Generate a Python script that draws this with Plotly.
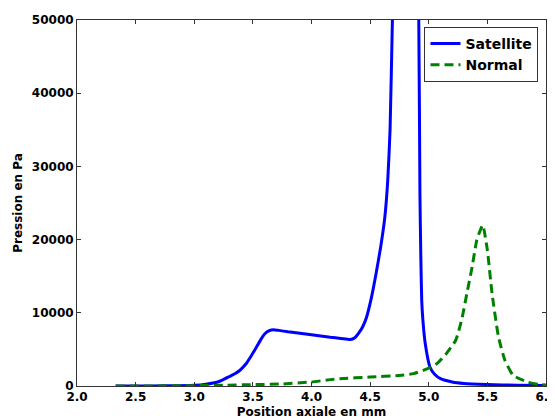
import plotly.graph_objects as go

# Satellite series (Pa vs mm)
sat_x = [2.33, 2.5, 2.75, 3.0, 3.1, 3.2, 3.25, 3.3, 3.35, 3.39, 3.44, 3.48, 3.53, 3.57, 3.6,
         3.64, 3.675, 3.72, 3.8, 4.0, 4.16, 4.25, 4.33, 4.37, 4.41, 4.44, 4.47, 4.51, 4.55,
         4.59, 4.625, 4.65, 4.67, 4.69, 4.72, 4.8, 4.88, 4.915, 4.925, 4.932, 4.94, 4.95,
         4.97, 5.01, 5.05, 5.10, 5.2, 5.3, 5.5, 5.75, 6.0]
sat_y = [0, 0, 20, 100, 250, 550, 900, 1300, 1700, 2150, 3000, 3960, 5300, 6400, 7100,
         7550, 7700, 7600, 7400, 7000, 6650, 6500, 6340, 6600, 7380, 8200, 9430, 12000, 15300,
         19000, 23000, 28000, 35000, 50000, 70000, 100000, 80000, 50000, 26000, 18000, 11700, 9000,
         5800, 2600, 1600, 1000, 550, 350, 200, 100, 60]

# Normal series
nor_x = [2.33, 2.75, 3.0, 3.25, 3.5, 3.75, 4.0, 4.16, 4.24, 4.5, 4.75, 4.87, 4.98, 5.07,
         5.15, 5.23, 5.28, 5.325, 5.37, 5.41, 5.46, 5.50, 5.54, 5.595, 5.65, 5.72, 5.84,
         5.94, 6.0]
nor_y = [0, 20, 50, 100, 190, 280, 550, 870, 1000, 1230, 1450, 1690, 2300, 3060,
         4430, 6250, 8980, 12630, 16270, 19920, 21970, 18550, 12630, 6700, 3510, 1460, 550,
         200, 120]

x_ticks = [2.0, 2.5, 3.0, 3.5, 4.0, 4.5, 5.0, 5.5, 6.0]
y_ticks = [0, 10000, 20000, 30000, 40000, 50000]

font = "DejaVu Sans"

fig = go.Figure()
fig.add_trace(go.Scatter(x=sat_x, y=sat_y, mode="lines", name="Satellite",
                         line=dict(color="#0000ff", width=3, shape="spline", smoothing=0.5)))
fig.add_trace(go.Scatter(x=nor_x, y=nor_y, mode="lines", name="Normal",
                         line=dict(color="#008000", width=3, dash="9px,5px",
                                   shape="spline", smoothing=0.5)))

axis_common = dict(showgrid=False, zeroline=False, showline=True, linecolor="#333333",
                   linewidth=1, mirror="allticks", ticks="inside", ticklen=4,
                   tickcolor="#333333", automargin=False, ticklabeloverflow="allow",
                   tickfont=dict(family=font, size=12, color="black", weight="bold"))

fig.update_xaxes(range=[2.0, 6.0], tickvals=x_ticks,
                 ticktext=[f"{v:.1f}" for v in x_ticks],
                 title=dict(text="Position axiale en mm", standoff=4,
                            font=dict(family=font, size=12, color="black", weight="bold")),
                 **axis_common)
fig.update_yaxes(range=[0, 50000], tickvals=y_ticks,
                 ticktext=[str(v) for v in y_ticks],
                 title=dict(text="Pression en Pa", standoff=6,
                            font=dict(family=font, size=12, color="black", weight="bold")),
                 **axis_common)

fig.update_layout(
    width=547, height=412,
    margin=dict(l=69, r=9, t=12, b=34),
    plot_bgcolor="white", paper_bgcolor="white",
    showlegend=True,
    legend=dict(x=0.984, y=0.981, xanchor="right", yanchor="top",
                bgcolor="white", bordercolor="#333333", borderwidth=1,
                font=dict(family=font, size=14, color="black", weight="bold"),
                itemwidth=30, tracegroupgap=0),
)

fig.write_html("out.html")
